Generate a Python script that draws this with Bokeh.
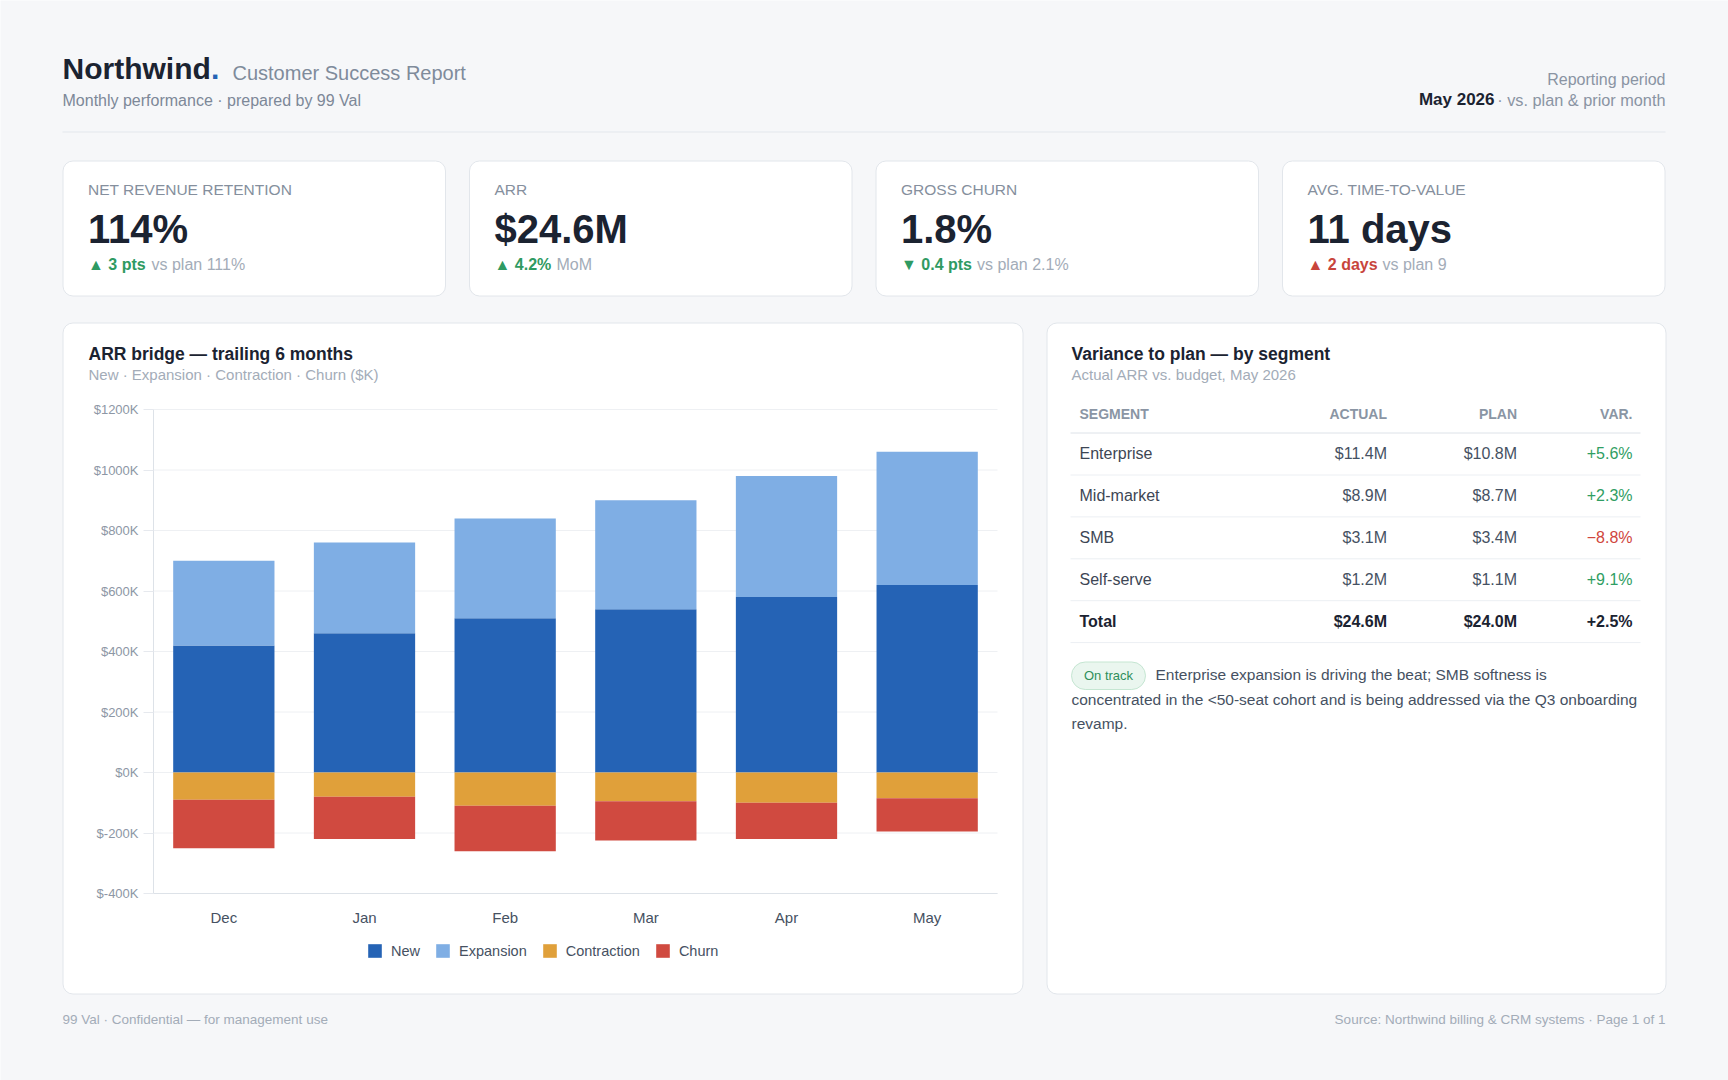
from bokeh.plotting import figure
from bokeh.models import (Range1d, ColumnDataSource, Legend, LegendItem, LinearAxis,
                          FixedTicker, CustomJSTickFormatter, BoxAnnotation)
from bokeh.core.properties import value
from bokeh.embed import file_html
from bokeh.resources import INLINE

# ---------------------------------------------------------------- data
months = ["Dec", "Jan", "Feb", "Mar", "Apr", "May"]
new_k = [420, 460, 510, 540, 580, 620]
expansion_k = [280, 300, 330, 360, 400, 440]
contraction_k = [-90, -80, -110, -95, -100, -85]
churn_k = [-160, -140, -150, -130, -120, -110]
y_ticks_k = [-400, -200, 0, 200, 400, 600, 800, 1000, 1200]
series_names = ["New", "Expansion", "Contraction", "Churn"]

kpi_titles = ["NET REVENUE RETENTION", "ARR", "GROSS CHURN", "AVG. TIME-TO-VALUE"]
kpi_values = ["114%", "$24.6M", "1.8%", "11 days"]
kpi_changes = ["▲ 3 pts", "▲ 4.2%", "▼ 0.4 pts", "▲ 2 days"]
kpi_refs = ["vs plan 111%", "MoM", "vs plan 2.1%", "vs plan 9"]
kpi_favourable = [True, True, True, False]

segments = ["Enterprise", "Mid-market", "SMB", "Self-serve"]
actual_m = [11.4, 8.9, 3.1, 1.2]
plan_m = [10.8, 8.7, 3.4, 1.1]
variance_pct = [5.6, 2.3, -8.8, 9.1]
total_actual_m = 24.6
total_plan_m = 24.0
total_variance_pct = 2.5
table_headers = ["SEGMENT", "ACTUAL", "PLAN", "VAR."]

note_lines = [
    "Enterprise expansion is driving the beat; SMB softness is",
    "concentrated in the <50-seat cohort and is being addressed via the Q3 onboarding",
    "revamp.",
]

# ---------------------------------------------------------------- style / page geometry
W, H = 1728, 1080
FONT = "Liberation Sans"
PAGE = "#f6f7f9"
CARD_LINE = "#e2e6eb"
INK = "#1b2331"
MUTED = "#7d8898"
SOFT = "#a3acb8"
BODY = "#465162"
GREEN = "#2f9a62"
RED = "#c8453c"
ACCENT = "#2563b5"
C_NEW, C_EXP, C_CON, C_CHURN = "#2563b5", "#7faee4", "#e0a03a", "#d04a40"

KPI_X0, KPI_W, KPI_GAP = 62.5, 382.5, 24
KPI_REF_DX = [63.5, 62, 76, 75]

# plot area of the ARR bridge, in page pixels (from the top-left corner)
PLOT_L, PLOT_R, PLOT_T, PLOT_B = 153, 997, 409, 893
Y_MIN, Y_MAX = -400, 1200


def fmt_m(v):
    return f"${v:.1f}M"


def fmt_pct(v):
    return f"{'+' if v >= 0 else '−'}{abs(v):.1f}%"


def Y(y):
    return H - y


p = figure(width=W, height=H, x_range=Range1d(0, W), y_range=Range1d(0, H),
           output_backend="svg", toolbar_location=None, tools="", title=None,
           min_border=0, x_axis_location=None, y_axis_location=None,
           outline_line_color=None, background_fill_color=PAGE, border_fill_color=PAGE)
p.xgrid.visible = False
p.ygrid.visible = False


def card(l, r, t, b, radius=10, fill="white", line=CARD_LINE):
    p.add_layout(BoxAnnotation(left=l, right=r, top=Y(t), bottom=Y(b),
                               fill_color=fill, fill_alpha=1, line_color=line,
                               line_alpha=1, line_width=1, border_radius=radius,
                               level="underlay"))


def txt(x, y, s, size, color, bold=False, align="left"):
    p.text(x=[x], y=[Y(y)], text=[s], text_font=value(FONT), text_font_size=size,
           text_color=color, text_font_style="bold" if bold else "normal",
           text_align=align, text_baseline="middle")


def hline(y, xa, xb, color):
    p.segment(x0=[xa], y0=[Y(y)], x1=[xb], y1=[Y(y)], line_color=color, line_width=1)


# ---------------------------------------------------------------- header
txt(62, 68.3, "Northwind", "30px", INK, bold=True)
txt(210.5, 68.3, ".", "30px", ACCENT, bold=True)
txt(232, 72, "Customer Success Report", "20px", "#7f8b9b")
txt(62, 100, "Monthly performance · prepared by 99 Val", "16px", MUTED)
txt(1665, 79.4, "Reporting period", "16px", "#8a94a3", align="right")
txt(1665, 99.2, "· vs. plan & prior month", "16.3px", "#8a94a3", align="right")
txt(1494, 99.2, "May 2026", "17px", INK, bold=True, align="right")
hline(131.5, 62, 1665, "#e3e7ec")

# ---------------------------------------------------------------- KPI cards
for i in range(4):
    l = KPI_X0 + i * (KPI_W + KPI_GAP)
    card(l, l + KPI_W, 160.5, 295.5)
    x = l + 25
    txt(x, 188.6, kpi_titles[i], "15.5px", "#858f9d")
    txt(x, 228, kpi_values[i], "40px", INK, bold=True)
    txt(x, 264.3, kpi_changes[i], "16px", GREEN if kpi_favourable[i] else RED, bold=True)
    txt(x + KPI_REF_DX[i], 264.3, kpi_refs[i], "16px", SOFT)

# ---------------------------------------------------------------- chart card
card(62.5, 1022.5, 322.5, 993.5)
txt(88, 353.8, "ARR bridge — trailing 6 months", "17.5px", INK, bold=True)
txt(88, 373.8, "New · Expansion · Contraction · Churn ($K)", "15px", SOFT)

# ranges that place the bridge inside its card: page pixels -> months / $K
n = len(months)
px_per_slot = (PLOT_R - PLOT_L) / n
px_per_k = (PLOT_B - PLOT_T) / (Y_MAX - Y_MIN)
p.extra_x_ranges["bx"] = Range1d(-PLOT_L / px_per_slot, n + (W - PLOT_R) / px_per_slot)
p.extra_y_ranges["by"] = Range1d(Y_MIN - (H - PLOT_B) / px_per_k, Y_MAX + PLOT_T / px_per_k)

slots = [i + 0.5 for i in range(n)]
grid_src = ColumnDataSource(dict(tick=y_ticks_k, x0=[0] * len(y_ticks_k), x1=[n] * len(y_ticks_k)))
p.segment(x0="x0", x1="x1", y0="tick", y1="tick", source=grid_src, line_color="#eef0f3",
          line_width=1, x_range_name="bx", y_range_name="by")

src = ColumnDataSource(dict(slot=slots, new=new_k, expansion=expansion_k,
                            contraction=contraction_k, churn=churn_k))
gain = p.vbar_stack(["new", "expansion"], x="slot", width=0.72, source=src,
                    fill_color=[C_NEW, C_EXP], line_color=None,
                    x_range_name="bx", y_range_name="by")
loss = p.vbar_stack(["contraction", "churn"], x="slot", width=0.72, source=src,
                    fill_color=[C_CON, C_CHURN], line_color=None,
                    x_range_name="bx", y_range_name="by")

yax = LinearAxis(x_range_name="bx", y_range_name="by", fixed_location=0,
                 bounds=(Y_MIN, Y_MAX), ticker=FixedTicker(ticks=y_ticks_k),
                 formatter=CustomJSTickFormatter(code="return '$' + tick + 'K';"))
yax.axis_line_color = "#dde2e8"
yax.major_tick_line_color = "#e6e9ee"
yax.major_tick_out = 10
yax.major_tick_in = 0
yax.minor_tick_line_color = None
yax.major_label_standoff = 5
yax.major_label_text_font = FONT
yax.major_label_text_font_size = "13px"
yax.major_label_text_color = "#8d97a5"
p.add_layout(yax, "left")

xax = LinearAxis(x_range_name="bx", y_range_name="by", fixed_location=Y_MIN,
                 bounds=(0, n), ticker=FixedTicker(ticks=slots),
                 major_label_overrides={s: m for s, m in zip(slots, months)})
xax.axis_line_color = "#dde2e8"
xax.major_tick_line_color = None
xax.major_tick_out = 0
xax.major_tick_in = 0
xax.minor_tick_line_color = None
xax.major_label_standoff = 15
xax.major_label_text_font = FONT
xax.major_label_text_font_size = "15px"
xax.major_label_text_color = BODY
p.add_layout(xax, "below")

legend = Legend(
    items=[LegendItem(label=value(nm), renderers=[r]) for nm, r in zip(series_names, gain + loss)],
    orientation="horizontal", location=(366, 121), margin=0, padding=0, spacing=14,
    glyph_width=17, glyph_height=17, label_standoff=8, label_height=16,
    label_text_font=FONT, label_text_font_size="14.5px", label_text_color=BODY,
    border_line_color=None, background_fill_alpha=0)
p.add_layout(legend)

# ---------------------------------------------------------------- variance card
card(1046.5, 1665.5, 322.5, 993.5)
txt(1071, 353.8, "Variance to plan — by segment", "17.5px", INK, bold=True)
txt(1071, 373.8, "Actual ARR vs. budget, May 2026", "15px", SOFT)

col_right = [1386.5, 1516.5, 1632]
head_col = "#8a95a4"
txt(1079, 413.8, table_headers[0], "14px", head_col, bold=True)
for j in range(3):
    txt(col_right[j], 413.8, table_headers[j + 1], "14px", head_col, bold=True, align="right")
hline(432.5, 1070, 1640, "#dde2e8")
pitch = 41.9
for k, seg in enumerate(segments):
    yc = 453.2 + k * pitch
    txt(1079, yc, seg, "16px", "#3d4654")
    txt(col_right[0], yc, fmt_m(actual_m[k]), "16px", BODY, align="right")
    txt(col_right[1], yc, fmt_m(plan_m[k]), "16px", BODY, align="right")
    v = variance_pct[k]
    txt(col_right[2], yc, fmt_pct(v), "16px", "#2f9e63" if v >= 0 else "#d0463d", align="right")
    hline(474.5 + k * pitch, 1070, 1640, "#eceff3")
yc = 453.2 + 4 * pitch
txt(1079, yc, "Total", "16px", INK, bold=True)
txt(col_right[0], yc, fmt_m(total_actual_m), "16px", INK, bold=True, align="right")
txt(col_right[1], yc, fmt_m(total_plan_m), "16px", INK, bold=True, align="right")
txt(col_right[2], yc, fmt_pct(total_variance_pct), "16px", INK, bold=True, align="right")
hline(474.5 + 4 * pitch, 1070, 1640, "#eceff3")

# status pill and commentary
card(1071, 1145, 661.5, 689, radius=14, fill="#eaf6ef", line="#c5e6d2")
txt(1108, 675.3, "On track", "13px", "#2f8f5b", align="center")
txt(1155, 674, note_lines[0], "15.5px", BODY)
txt(1071, 699, note_lines[1], "15.5px", BODY)
txt(1071, 722.6, note_lines[2], "15.5px", BODY)

# ---------------------------------------------------------------- footer
txt(62, 1019, "99 Val · Confidential — for management use", "13.5px", SOFT)
txt(1665, 1019, "Source: Northwind billing & CRM systems · Page 1 of 1", "13.5px", SOFT, align="right")

with open("out.html", "w") as fh:
    fh.write(file_html(p, INLINE, title="Customer Success Report"))
